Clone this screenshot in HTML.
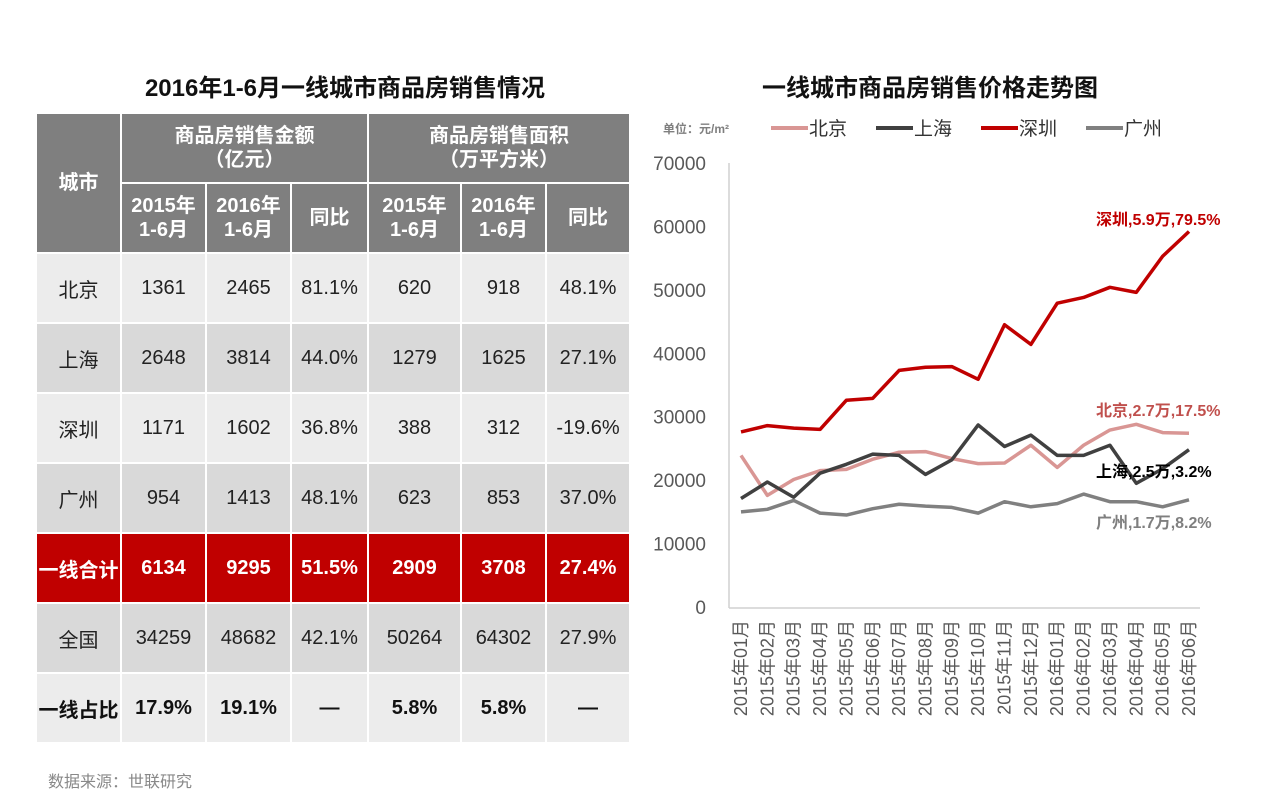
<!DOCTYPE html>
<html><head><meta charset="utf-8"><style>
body{margin:0;width:1280px;height:797px;background:#fff;font-family:"Liberation Sans","Noto Sans CJK SC",sans-serif;position:relative;overflow:hidden}
.t{position:absolute;font-weight:bold;font-size:24px;color:#111;text-align:center}
table{position:absolute;left:35px;top:112px;border-collapse:collapse}
td{border:2px solid #fff;text-align:center;font-size:20px;color:#222;padding:0;height:68px;vertical-align:middle;white-space:nowrap;overflow:hidden}
.h{background:#7f7f7f;color:#fff;font-weight:bold;line-height:24px}
.l td{background:#ececec}.d td{background:#d9d9d9}
.r td{background:#c00000;color:#fff;font-weight:bold}
.b td{font-weight:bold;color:#111}
</style></head><body>
<div class="t" style="left:35px;width:620px;top:68px">2016年1-6月一线城市商品房销售情况</div>
<div class="t" style="left:700px;width:460px;top:68px">一线城市商品房销售价格走势图</div>
<table>
<tr><td class="h" rowspan="2" style="width:83px">城市</td><td class="h" colspan="3">商品房销售金额<br>（亿元）</td><td class="h" colspan="3">商品房销售面积<br>（万平方米）</td></tr>
<tr><td class="h" style="width:83px">2015年<br>1-6月</td><td class="h" style="width:83px">2016年<br>1-6月</td><td class="h" style="width:75px">同比</td><td class="h" style="width:91px">2015年<br>1-6月</td><td class="h" style="width:83px">2016年<br>1-6月</td><td class="h" style="width:82px">同比</td></tr>
<tr class="l"><td>北京</td><td>1361</td><td>2465</td><td>81.1%</td><td>620</td><td>918</td><td>48.1%</td></tr>
<tr class="d"><td>上海</td><td>2648</td><td>3814</td><td>44.0%</td><td>1279</td><td>1625</td><td>27.1%</td></tr>
<tr class="l"><td>深圳</td><td>1171</td><td>1602</td><td>36.8%</td><td>388</td><td>312</td><td>-19.6%</td></tr>
<tr class="d"><td>广州</td><td>954</td><td>1413</td><td>48.1%</td><td>623</td><td>853</td><td>37.0%</td></tr>
<tr class="r"><td>一线合计</td><td>6134</td><td>9295</td><td>51.5%</td><td>2909</td><td>3708</td><td>27.4%</td></tr>
<tr class="d"><td>全国</td><td>34259</td><td>48682</td><td>42.1%</td><td>50264</td><td>64302</td><td>27.9%</td></tr>
<tr class="l b"><td>一线占比</td><td>17.9%</td><td>19.1%</td><td>—</td><td>5.8%</td><td>5.8%</td><td>—</td></tr>
</table>
<div style="position:absolute;left:48px;top:768px;font-size:16px;color:#888">数据来源：世联研究</div>
<svg id="c" width="1280" height="797" style="position:absolute;left:0;top:0"></svg>
<script>
const months=["2015年01月","2015年02月","2015年03月","2015年04月","2015年05月","2015年06月","2015年07月","2015年08月","2015年09月","2015年10月","2015年11月","2015年12月","2016年01月","2016年02月","2016年03月","2016年04月","2016年05月","2016年06月"];
const beijing=[23900,17600,20100,21500,21700,23300,24400,24500,23400,22600,22700,25500,22000,25500,27900,28800,27500,27400];
const shanghai=[17100,19700,17300,21100,22500,24100,23900,20900,23200,28700,25300,27100,23900,23900,25500,19500,21800,24800];
const shenzhen=[27600,28600,28200,28000,32600,32900,37300,37800,37900,35900,44500,41400,47900,48800,50400,49600,55300,59200];
const guangzhou=[15000,15400,16800,14800,14500,15500,16200,15900,15700,14800,16600,15800,16300,17800,16600,16600,15800,16900];
const yTicks=[0,10000,20000,30000,40000,50000,60000,70000];
const NS="http://www.w3.org/2000/svg",svg=document.getElementById('c');
const X=i=>741+i*(1189-741)/(months.length-1);
const Y=v=>607-v*(607-163)/70000;
function el(t,a,txt){const e=document.createElementNS(NS,t);for(const k in a)e.setAttribute(k,a[k]);if(txt!==undefined)e.textContent=txt;svg.appendChild(e);return e;}
let ax=el('line',{x1:729,y1:163,x2:729,y2:608,stroke:'#d0d0d0','stroke-width':1.5});

let bx=el('line',{x1:729,y1:608,x2:1200,y2:608,stroke:'#d0d0d0','stroke-width':1.5});

yTicks.forEach(v=>{let t=el('text',{x:706,y:Y(v)+7,'text-anchor':'end','font-size':19,fill:'#595959'},v);
});
months.forEach((m,i)=>{let t=el('text',{transform:`translate(${X(i)+6},620) rotate(-90)`,'text-anchor':'end','font-size':18,fill:'#595959'},m);
});
const series=[[beijing,'#d99694','beijing'],[shanghai,'#404040','shanghai'],[guangzhou,'#808080','guangzhou'],[shenzhen,'#c00000','shenzhen']];
series.forEach(([d,c,n])=>{let p=el('polyline',{points:d.map((v,i)=>X(i)+','+Y(v)).join(' '),fill:'none',stroke:c,'stroke-width':3.5,'stroke-linejoin':'round'});
});
const anns=[["深圳,5.9万,79.5%",1096,225,'#c00000'],["北京,2.7万,17.5%",1096,416,'#c0504d'],["上海,2.5万,3.2%",1096,477,'#000'],["广州,1.7万,8.2%",1096,528,'#7f7f7f']];
anns.forEach(a=>{let t=el('text',{x:a[1],y:a[2],'font-size':16,'font-weight':'bold',fill:a[3]},a[0]);
});
let u=el('text',{x:663,y:133,'font-size':12,'font-weight':'bold',fill:'#7f7f7f'},'单位：元/m²');

const leg=[['北京','#d99694',771],['上海','#404040',876],['深圳','#c00000',981],['广州','#808080',1086]];
leg.forEach(l=>{let g=el('g',{});
const ln=document.createElementNS(NS,'line');[['x1',l[2]],['y1',128],['x2',l[2]+37],['y2',128],['stroke',l[1]],['stroke-width',4]].forEach(a=>ln.setAttribute(a[0],a[1]));g.appendChild(ln);
const t=document.createElementNS(NS,'text');t.setAttribute('x',l[2]+38);t.setAttribute('y',135);t.setAttribute('font-size',19);t.setAttribute('fill','#333');t.textContent=l[0];g.appendChild(t);});
</script>
</body></html>
